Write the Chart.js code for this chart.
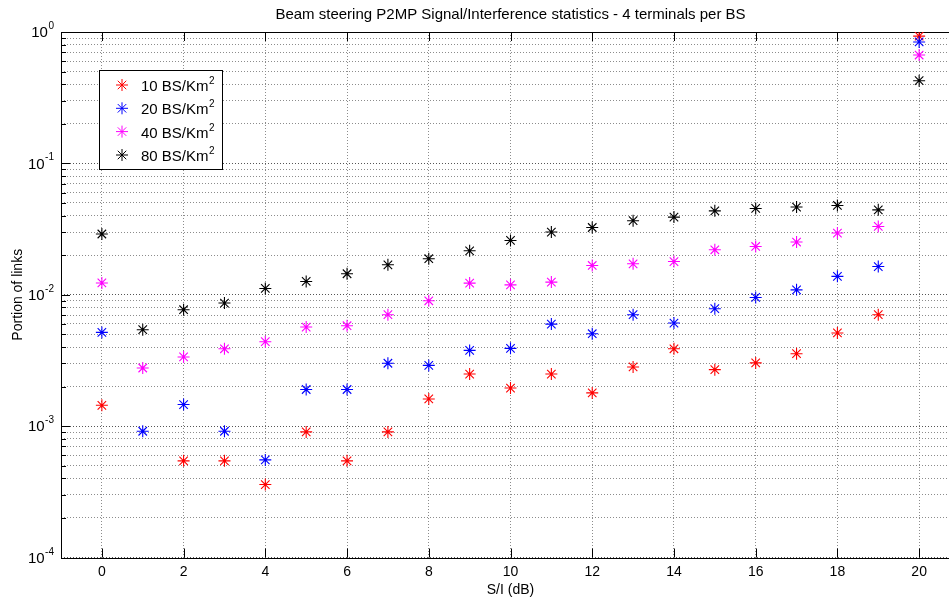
<!DOCTYPE html>
<html>
<head>
<meta charset="utf-8">
<script src="https://cdn.jsdelivr.net/npm/chart.js@4.4.0/dist/chart.umd.min.js"></script>
<style>
  html, body { margin: 0; padding: 0; background: #fff; overflow: hidden; }
  #caixa { width: 1021px; height: 601px; }
</style>
</head>
<body>
<div id="caixa"><canvas id="grafico" width="1021" height="601"></canvas></div>
<script>
// S/I statistics
const siDb = [0,1,2,3,4,5,6,7,8,9,10,11,12,13,14,15,16,17,18,19,20];

const bs10 = [0.00144, null, 0.000544, 0.000544, 0.000359, 0.000904, 0.000544, 0.000904, 0.00161, 0.00249,
              0.00195, 0.00249, 0.00179, 0.00282, 0.00388, 0.00269, 0.00303, 0.00356, 0.00512, 0.00705, 0.93];
const bs20 = [0.00517, 0.000914, 0.00146, 0.000914, 0.000553, 0.00190, 0.00190, 0.00301, 0.00290, 0.00377,
              0.00391, 0.00598, 0.00505, 0.00705, 0.00609, 0.00783, 0.00954, 0.0109, 0.0138, 0.0164, 0.84];
const bs40 = [0.0123, 0.00277, 0.00336, 0.00388, 0.00439, 0.00568, 0.00581, 0.00705, 0.0090, 0.01227,
              0.0119, 0.01248, 0.0167, 0.0172, 0.0179, 0.0220, 0.0233, 0.0252, 0.0295, 0.0331, 0.668];
const bs80 = [0.0290, 0.00542, 0.00769, 0.00865, 0.01117, 0.01262, 0.01445, 0.0169, 0.0188, 0.0216,
              0.0259, 0.0300, 0.0325, 0.0366, 0.0390, 0.0435, 0.0454, 0.0465, 0.0478, 0.0443, 0.426];

const legendas = ['10 BS/Km', '20 BS/Km', '40 BS/Km', '80 BS/Km'];
const cores = ['#ff0000', '#0000ff', '#ff00ff', '#000000'];

const xTicks = [0,2,4,6,8,10,12,14,16,18,20];
const yExpoentes = [0,-1,-2,-3,-4];

const titulo = 'Beam steering P2MP Signal/Interference statistics - 4 terminals per BS';
const tituloX = 'S/I (dB)';
const tituloY = 'Portion of links';

const FONTE = "'Liberation Sans', Arial, Helvetica, sans-serif";

function pontos(serie) {
  return siDb.map((x, i) => ({x: x, y: serie[i]}));
}

function ehMaior(v) {
  const l = Math.log10(v);
  return Math.abs(l - Math.round(l)) < 1e-9;
}

// grade de log: 1..9 x 10^e
function ticksLog() {
  const t = [];
  for (let e = yExpoentes[yExpoentes.length - 1]; e < yExpoentes[0]; e++) {
    for (let m = 1; m < 10; m++) t.push({value: m * Math.pow(10, e)});
  }
  t.push({value: Math.pow(10, yExpoentes[0])});
  return t;
}

// caixa, marcas internas, textos e legenda
const moldura = {
  id: 'moldura',
  beforeDatasetsDraw(chart) {
    const {ctx, chartArea: a, scales: {x, y}} = chart;
    ctx.save();
    ctx.strokeStyle = '#000';
    ctx.lineWidth = 1;
    ctx.beginPath();
    y.ticks.forEach(t => {
      const py = Math.round(y.getPixelForValue(t.value)) + 0.5;
      const len = ehMaior(t.value) ? 9 : 5;
      ctx.moveTo(a.left, py); ctx.lineTo(a.left + len, py);
      ctx.moveTo(a.right, py); ctx.lineTo(a.right - len, py);
    });
    x.ticks.forEach(t => {
      const px = Math.round(x.getPixelForValue(t.value)) + 0.5;
      ctx.moveTo(px, a.bottom); ctx.lineTo(px, a.bottom - 9);
      ctx.moveTo(px, a.top); ctx.lineTo(px, a.top + 9);
    });
    ctx.stroke();
    ctx.strokeRect(Math.round(a.left) + 0.5, Math.round(a.top) + 0.5,
                   Math.round(a.right - a.left), Math.round(a.bottom - a.top));
    ctx.restore();
  },
  afterDraw(chart) {
    const {ctx, chartArea: a, scales: {x, y}} = chart;
    ctx.save();
    ctx.fillStyle = '#000';

    // titulo
    ctx.font = '15px ' + FONTE;
    ctx.textAlign = 'center';
    ctx.textBaseline = 'middle';
    ctx.fillText(titulo, (a.left + a.right) / 2, 15);

    // titulo eixo x
    ctx.font = '14px ' + FONTE;
    ctx.fillText(tituloX, (a.left + a.right) / 2, 590);

    // titulo eixo y
    ctx.save();
    ctx.translate(18, (a.top + a.bottom) / 2);
    ctx.rotate(-Math.PI / 2);
    ctx.fillText(tituloY, 0, 0);
    ctx.restore();

    // rotulos do eixo y: 10^e
    yExpoentes.forEach(e => {
      const py = y.getPixelForValue(Math.pow(10, e));
      const sup = String(e);
      ctx.font = '10px ' + FONTE;
      const ws = ctx.measureText(sup).width;
      ctx.textAlign = 'right';
      ctx.textBaseline = 'alphabetic';
      ctx.fillText(sup, 54, py - 3);
      ctx.font = '15px ' + FONTE;
      ctx.textBaseline = 'middle';
      ctx.fillText('10', 54 - ws - 0.5, py + 1);
    });

    // legenda
    const lx = 99.5, ly = 70.5, lw = 123, lh = 99;
    ctx.fillStyle = '#fff';
    ctx.fillRect(lx, ly, lw, lh);
    ctx.strokeStyle = '#000';
    ctx.lineWidth = 1;
    ctx.strokeRect(lx, ly, lw, lh);
    const linhas = [85, 108.3, 131.6, 155];
    legendas.forEach((txt, i) => {
      const ry = linhas[i];
      ctx.strokeStyle = cores[i];
      ctx.fillStyle = cores[i];
      ctx.lineWidth = 1;
      Chart.helpers.drawPoint(ctx, {pointStyle: 'star', radius: 6, borderWidth: 1, rotation: 0}, 122, ry);
      ctx.fillStyle = '#000';
      ctx.textAlign = 'left';
      ctx.textBaseline = 'alphabetic';
      ctx.font = '15px ' + FONTE;
      ctx.fillText(txt, 141, ry + 6);
      const w = ctx.measureText(txt).width;
      ctx.font = '10px ' + FONTE;
      ctx.fillText('2', 141 + w + 0.5, ry - 1);
    });
    ctx.restore();
  }
};

const series = [bs10, bs20, bs40, bs80];

new Chart(document.getElementById('grafico'), {
  type: 'scatter',
  data: {
    datasets: series.map((s, i) => ({
      label: legendas[i] + '2',
      data: pontos(s),
      pointStyle: 'star',
      pointRadius: 6,
      pointHoverRadius: 6,
      borderWidth: 1.1,
      borderColor: cores[i],
      backgroundColor: cores[i],
      showLine: false,
      order: 3 - i
    }))
  },
  options: {
    responsive: false,
    animation: false,
    devicePixelRatio: 1,
    layout: {
      padding: {left: 0, top: 32, right: 61, bottom: 0},
      autoPadding: false
    },
    plugins: {
      legend: {display: false},
      title: {display: false},
      tooltip: {enabled: false}
    },
    scales: {
      x: {
        type: 'linear',
        min: -1,
        max: 21,
        afterBuildTicks: s => { s.ticks = xTicks.map(v => ({value: v})); },
        afterFit: s => { s.height = 601 - 557.5; },
        grid: {color: '#8c8c8c', lineWidth: 1, drawTicks: false},
        border: {display: false, dash: [1, 2]},
        ticks: {
          color: '#000',
          font: {size: 14, family: FONTE},
          padding: 6,
          maxRotation: 0,
          autoSkip: false
        }
      },
      y: {
        type: 'logarithmic',
        min: 1e-4,
        max: 1,
        afterBuildTicks: s => { s.ticks = ticksLog(); },
        afterFit: s => { s.width = 61; },
        grid: {
          color: c => (c.tick && ehMaior(c.tick.value)) ? '#555' : '#8c8c8c',
          lineWidth: 1,
          drawTicks: false
        },
        border: {display: false, dash: [1, 2]},
        ticks: {display: false}
      }
    }
  },
  plugins: [moldura]
});
</script>
</body>
</html>
